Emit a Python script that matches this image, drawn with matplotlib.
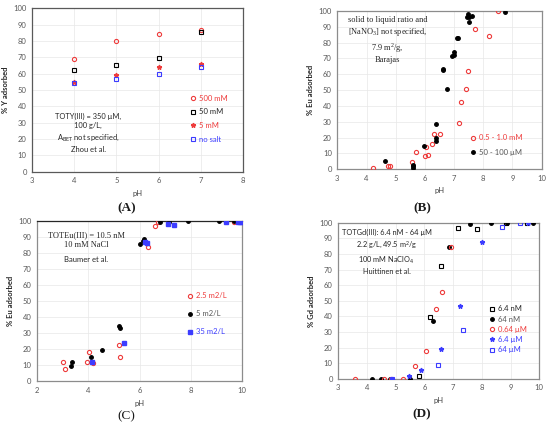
import matplotlib
matplotlib.use("Agg")
import matplotlib.pyplot as plt

RED, BLUE, BLACK = "#ee3b3b", "#3c3cff", "#000000"
TICK, FRAME, GRID = "#7f7f7f", "#8c8c8c", "#e8e8e8"
SERIF = ["Liberation Serif", "DejaVu Serif"]
SANS = ["Lato", "DejaVu Sans"]

plt.rcParams.update({
    "font.family": SANS, "font.size": 5.5, "xtick.color": TICK,
    "ytick.color": TICK, "xtick.labelcolor": "#595959",
    "ytick.labelcolor": "#595959", "xtick.major.size": 0,
    "ytick.major.size": 0, "axes.linewidth": 0.9,
})

# ---- (A) Zhou et al., % Y adsorbed ----
a_ph = [4, 5, 6, 7]
a_500mM = [69, 80, 84, 87]
a_50mM = [62.5, 65, 69.5, 85.5]
a_5mM = [55, 59, 64, 66]
a_nosalt = [54, 57, 59.5, 64]

# ---- (B) Barajas, % Eu adsorbed ----
b_hi_ph = [4.21, 4.75, 4.82, 5.55, 5.71, 6.01, 6.03, 6.11, 6.26, 6.30, 6.53,
           7.16, 7.24, 7.41, 7.48, 7.73, 8.20, 8.49]
b_hi_y = [0.8, 2, 2, 4.6, 10.7, 8.2, 13.9, 9.3, 15.8, 22.1, 22.1, 29.1,
          42.7, 50.9, 62.3, 88.4, 84.4, 100]
b_lo_ph = [4.63, 5.59, 5.59, 5.59, 5.96, 6.38, 6.38, 6.38, 6.62, 6.62, 6.76,
           6.94, 7.00, 7.00, 7.10, 7.12, 7.44, 7.48, 7.50, 7.52, 7.63, 8.74]
b_lo_y = [5, 3, 2, 1, 14.9, 28.4, 19.8, 18, 63.6, 62.5, 50.5, 71.6, 72.2,
          74.3, 83.2, 83.2, 96, 97.9, 96, 92.8, 97, 99.6]

# ---- (C) Baumer et al., % Eu adsorbed ----
c_25_ph = [3.03, 3.10, 3.97, 4.04, 4.17, 5.20, 5.25, 6.32, 6.61, 6.71, 9.68]
c_25_y = [12.1, 7.9, 12.1, 18.3, 11.6, 22.7, 15, 83.8, 96.7, 99.4, 99.4]
c_5_ph = [3.33, 3.35, 4.10, 4.52, 5.19, 5.23, 6.03, 6.15, 6.17, 6.79, 7.14,
          7.88, 9.11, 9.69]
c_5_y = [9.8, 12.1, 15, 19.8, 34.4, 33.5, 85.9, 87.9, 88.9, 99.6, 99.6,
         100, 100, 100]
c_35_ph = [4.13, 5.39, 6.22, 6.30, 7.12, 7.35, 9.39, 9.83, 9.94, 9.99]
c_35_y = [12.1, 23.9, 87.3, 86.5, 98.3, 97.9, 99.4, 99.4, 99.4, 99.4]

# ---- (D) Huittinen et al., % Gd adsorbed ----
d_64nM_open_ph = [5.82, 6.21, 6.59, 7.16, 7.82, 8.84, 9.56]
d_64nM_open_y = [1.7, 39.5, 72.6, 96.8, 96, 100, 99.6]
d_64nM_ph = [4.18, 4.49, 4.80, 5.51, 6.31, 6.86, 7.60, 8.31, 8.87, 9.77]
d_64nM_y = [0, 0, 0, 0, 37, 84.2, 99, 100, 100, 100]
d_064uM_ph = [3.58, 4.59, 4.82, 5.25, 5.68, 6.07, 6.41, 6.61, 6.93]
d_064uM_y = [0, 0, 0, 0, 8.1, 17.7, 44.4, 55.8, 84.2]
d_64uM_ph = [4.86, 5.45, 5.89, 6.57, 7.25, 8.02, 9.60]
d_64uM_y = [0, 2, 5.3, 19.2, 46.6, 87.4, 99.6]
d_640uM_ph = [4.86, 6.46, 7.36, 8.71, 9.32]
d_640uM_y = [0, 8.8, 31.4, 97, 100]


def open_mk(ax, x, y, m, c, label):
    ax.plot(x, y, m, ms=3.0, mfc="none", mec=c, mew=0.8, ls="none",
            label=label, zorder=3)


def fill_mk(ax, x, y, m, c, label, ms=2.8):
    ax.plot(x, y, m, ms=ms, color=c, mec=c, ls="none", label=label,
            zorder=3)


def frame(ax, xlim, xticks, ylabel):
    ax.set_xlim(*xlim)
    ax.set_ylim(0, 100)
    ax.set_xticks(xticks)
    ax.set_yticks(range(0, 101, 10))
    ax.grid(color=GRID, lw=0.5, zorder=0)
    for s in ax.spines.values():
        s.set_color(FRAME)
    ax.tick_params(labelsize=5.5, pad=4)
    ax.set_xlabel("pH", fontsize=5.5, color="#404040", labelpad=4)
    ax.set_ylabel(ylabel, fontsize=5.5, fontweight="bold", color="#262626",
                  labelpad=3)


def legend(ax, colors, x, y, spacing):
    ax.legend(loc="upper left", bbox_to_anchor=(x, y), frameon=False,
              fontsize=5.5, handlelength=0.6, handletextpad=0.5,
              borderpad=0, labelspacing=spacing, labelcolor=colors)


fig = plt.figure(figsize=(5.5, 4.26), dpi=100)
axA = fig.add_axes([0.0587, 0.597, 0.3825, 0.3835])
axB = fig.add_axes([0.6133, 0.6026, 0.3716, 0.3716])
axC = fig.add_axes([0.0673, 0.1045, 0.3727, 0.3763])
axD = fig.add_axes([0.615, 0.111, 0.3655, 0.366])

# (A)
frame(axA, (3, 8), range(3, 9), "% Y adsorbed")
axA.spines[:].set_color("#595959")
open_mk(axA, a_ph, a_500mM, "o", RED, "500 mM")
open_mk(axA, a_ph, a_50mM, "s", BLACK, "50 mM")
fill_mk(axA, a_ph, a_5mM, "*", RED, "5 mM", ms=3.4)
open_mk(axA, a_ph, a_nosalt, "s", BLUE, "no salt")
legend(axA, [RED, "#262626", RED, BLUE], 0.735, 0.495, 0.88)
axA.text(0.265, 0.24, "TOTY(III) = 350 µM,\n100 g/L,\n"
         r"A$_{\mathregular{BET}}$ not specified," "\nZhou et al.",
         transform=axA.transAxes, ha="center", va="center", fontsize=5.4,
         linespacing=1.45, color="#262626")

# (B)
frame(axB, (3, 10), range(3, 11), "% Eu adsorbed")
open_mk(axB, b_hi_ph, b_hi_y, "o", RED, "0.5 - 1.0 mM")
fill_mk(axB, b_lo_ph, b_lo_y, "o", BLACK, "50 - 100 µM", ms=2.5)
legend(axB, [RED, "#595959"], 0.635, 0.245, 1.0)
axB.text(0.246, 0.817, "solid to liquid ratio and\n"
         r"[NaNO$_\mathregular{3}$] not specified," "\n"
         r"7.9 m$^\mathregular{2}$/g," "\nBarajas",
         transform=axB.transAxes, ha="center", va="center", fontsize=6,
         family=SERIF, linespacing=1.3, color="#262626")

# (C)
frame(axC, (2, 10), range(2, 11, 2), "% Eu adsorbed")
axC.spines["top"].set_color("#262626")
open_mk(axC, c_25_ph, c_25_y, "o", RED, "2.5 m2/L")
fill_mk(axC, c_5_ph, c_5_y, "o", BLACK, "5 m2/L", ms=2.5)
fill_mk(axC, c_35_ph, c_35_y, "s", BLUE, "35 m2/L", ms=2.7)
legend(axC, [RED, "#595959", BLUE], 0.715, 0.58, 1.45)
axC.text(0.239, 0.88, "TOTEu(III) = 10.5 nM\n10 mM NaCl",
         transform=axC.transAxes, ha="center", va="center", fontsize=6,
         family=SERIF, linespacing=1.3, color="#262626")
axC.text(0.239, 0.76, "Baumer et al.", transform=axC.transAxes,
         ha="center", va="center", fontsize=5.5, color="#262626")

# (D)
frame(axD, (3, 10), range(3, 11), "% Gd adsorbed")
open_mk(axD, d_64nM_open_ph, d_64nM_open_y, "s", BLACK, "6.4 nM")
fill_mk(axD, d_64nM_ph, d_64nM_y, "o", BLACK, "64 nM", ms=2.5)
open_mk(axD, d_064uM_ph, d_064uM_y, "o", RED, "0.64 µM")
fill_mk(axD, d_64uM_ph, d_64uM_y, "*", BLUE, "6.4 µM", ms=3.4)
open_mk(axD, d_640uM_ph, d_640uM_y, "s", BLUE, "64 µM")
legend(axD, ["#262626", "#595959", RED, BLUE, BLUE], 0.735, 0.495, 0.42)
axD.text(0.24, 0.812, "TOTGd(III): 6.4 nM - 64 µM\n"
         r"2.2 g/L, 49.5 m$^\mathregular{2}$/g" "\n"
         r"100 mM NaClO$_\mathregular{4}$" "\nHuittinen et al.",
         transform=axD.transAxes, ha="center", va="center", fontsize=5.3,
         linespacing=1.45, color="#262626")

for lab, x, y, w in [("(A)", 0.231, 0.512, "bold"),
                     ("(B)", 0.767, 0.512, "bold"),
                     ("(C)", 0.230, 0.023, "normal"),
                     ("(D)", 0.767, 0.027, "bold")]:
    fig.text(x, y, lab, ha="center", va="center", fontsize=9.5,
             fontweight=w, family=SERIF, color="#1a1a1a")

fig.savefig("out.png", dpi=100)
